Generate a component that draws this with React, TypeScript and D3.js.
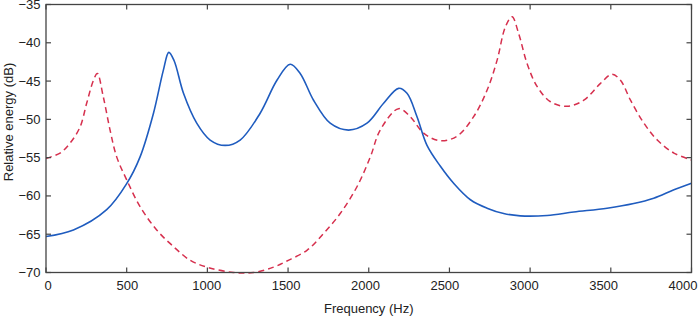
import React from "react";
import * as d3 from "d3";

const xTicks = [0, 500, 1000, 1500, 2000, 2500, 3000, 3500, 4000];
const yTicks = [-70, -65, -60, -55, -50, -45, -40, -35];

const blueFreq = [0, 170, 376, 500, 583, 666, 727, 761, 794, 852, 934, 1017, 1110, 1203, 1327, 1431, 1513, 1575, 1658, 1761, 1875, 1989, 2092, 2185, 2237, 2299, 2361, 2443, 2526, 2630, 2733, 2836, 2939, 3105, 3270, 3477, 3642, 3766, 3891, 4000];
const blueDb = [-65.3, -64.45, -61.8, -58.4, -54.9, -49.2, -43.6, -41.25, -42.35, -46.6, -50.5, -52.7, -53.4, -52.7, -49.2, -44.9, -42.8, -44.0, -47.5, -50.5, -51.4, -50.5, -47.9, -45.95, -46.6, -49.65, -53.4, -56.1, -58.35, -60.5, -61.6, -62.3, -62.6, -62.55, -62.1, -61.6, -61.0, -60.3, -59.2, -58.35];

const redFreq = [0, 87, 149, 211, 252, 294, 318, 355, 397, 438, 500, 583, 686, 789, 893, 997, 1162, 1286, 1410, 1493, 1617, 1720, 1823, 1927, 2010, 2071, 2185, 2257, 2340, 2443, 2547, 2650, 2733, 2795, 2847, 2888, 2929, 2981, 3043, 3126, 3229, 3333, 3436, 3508, 3560, 3622, 3705, 3788, 3891, 4000];
const redDb = [-55.1, -54.4, -53.1, -51.0, -47.9, -44.9, -44.0, -47.05, -51.4, -54.9, -57.9, -61.4, -64.45, -66.6, -68.4, -69.3, -70.0, -70.0, -69.3, -68.5, -67.1, -64.9, -62.3, -58.8, -54.9, -51.4, -48.6, -49.65, -51.8, -52.8, -52.2, -49.65, -46.2, -42.3, -37.9, -36.6, -38.8, -42.7, -45.7, -47.7, -48.3, -47.5, -45.3, -44.1, -44.9, -47.5, -50.5, -52.7, -54.4, -55.3];

const W = 698;
const H = 318;
const left = 46;
const right = 691.5;
const top = 4.5;
const bottom = 272.5;

export default function App() {
  const x = d3.scaleLinear().domain([0, 4000]).range([left, right]);
  const xLabel = d3.scaleLinear().domain([0, 4000]).range([48, 683]);
  const y = d3.scaleLinear().domain([-70, -35]).range([bottom, top]);
  const line = d3
    .line<[number, number]>()
    .x((d) => x(d[0]))
    .y((d) => y(d[1]))
    .curve(d3.curveCatmullRom.alpha(0.5));
  const blue = line(blueFreq.map((f, i) => [f, blueDb[i]] as [number, number])) || "";
  const red = line(redFreq.map((f, i) => [f, redDb[i]] as [number, number])) || "";
  const axisColor = "#444";
  const font = "Liberation Sans, Arial, Helvetica, sans-serif";
  const tl = 5;
  return (
    <svg
      width={W}
      height={H}
      style={{ position: "absolute", left: 0, top: 0, display: "block" }}
      fontFamily={font}
    >
      <rect x={0} y={0} width={W} height={H} fill="#fff" />
      <defs>
        <clipPath id="plot">
          <rect x={left} y={top - 2} width={right - left} height={bottom - top + 4} />
        </clipPath>
      </defs>
      <g clipPath="url(#plot)">
        <path d={red} fill="none" stroke="#d6304e" strokeWidth={1.5} strokeDasharray="6,4" />
        <path d={blue} fill="none" stroke="#1f5cbf" strokeWidth={1.6} />
      </g>
      <rect x={left} y={top} width={right - left} height={bottom - top} fill="none" stroke={axisColor} strokeWidth={1.3} />
      {xTicks.map((t) => (
        <g key={"x" + t}>
          <line x1={x(t)} x2={x(t)} y1={bottom} y2={bottom - tl} stroke={axisColor} strokeWidth={1.2} />
          <line x1={x(t)} x2={x(t)} y1={top} y2={top + tl} stroke={axisColor} strokeWidth={1.2} />
          <text x={xLabel(t)} y={289.5} fontSize={13} textAnchor="middle" fill="#222">
            {t}
          </text>
        </g>
      ))}
      {yTicks.map((t) => (
        <g key={"y" + t}>
          <line x1={left} x2={left + tl} y1={y(t)} y2={y(t)} stroke={axisColor} strokeWidth={1.2} />
          <line x1={right} x2={right - tl} y1={y(t)} y2={y(t)} stroke={axisColor} strokeWidth={1.2} />
          <text x={40.5} y={y(t) + 4.5} fontSize={13} textAnchor="end" fill="#222">
            {"\u2212" + Math.abs(t)}
          </text>
        </g>
      ))}
      <text x={(left + right) / 2} y={313} fontSize={13} textAnchor="middle" fill="#222">
        Frequency (Hz)
      </text>
      <text
        transform="translate(13,122) rotate(-90)"
        fontSize={13}
        textAnchor="middle"
        fill="#222"
      >
        Relative energy (dB)
      </text>
    </svg>
  );
}
